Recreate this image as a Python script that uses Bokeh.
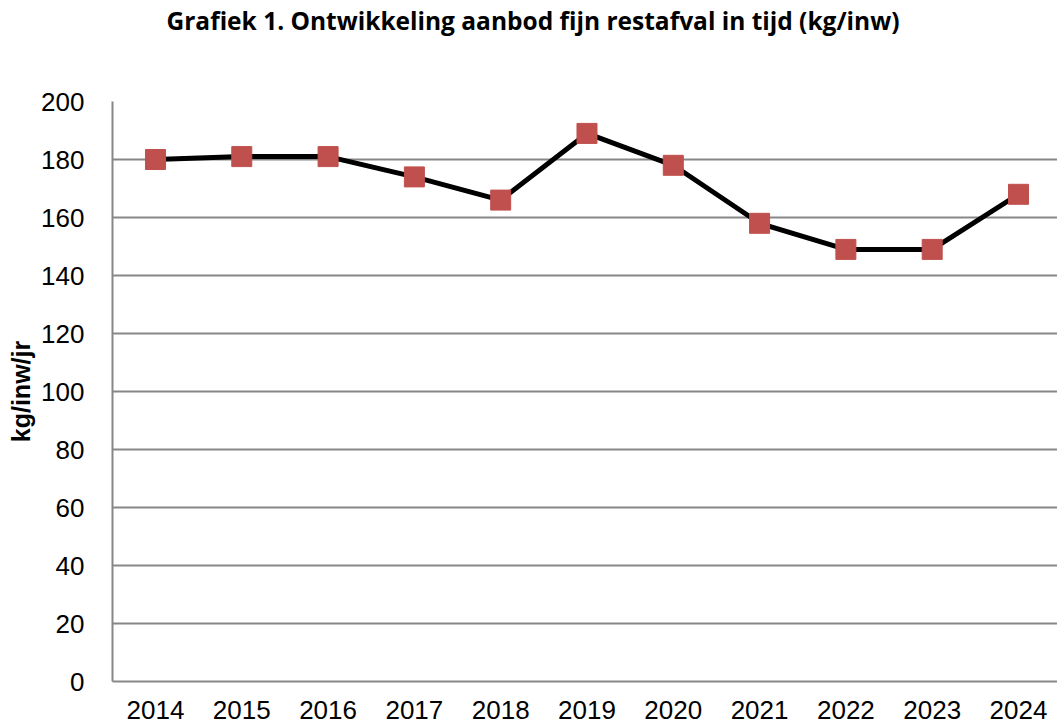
from bokeh.plotting import figure
from bokeh.models import Range1d, FixedTicker, Title
from bokeh.embed import file_html
from bokeh.resources import INLINE

years = [2014, 2015, 2016, 2017, 2018, 2019, 2020, 2021, 2022, 2023, 2024]
kg_per_inw = [180, 181, 181, 174, 166, 189, 178, 158, 149, 149, 168]
y_ticks = [0, 20, 40, 60, 80, 100, 120, 140, 160, 180, 200]
title_text = "Grafiek  1. Ontwikkeling aanbod fijn restafval in tijd (kg/inw)"
y_label = "kg/inw/jr"

p = figure(width=1057, height=724, output_backend="svg", toolbar_location=None,
           x_range=Range1d(2013.502, 2024.452), y_range=Range1d(0, 200),
           min_border_left=112, min_border_right=0, min_border_bottom=43,
           min_border_top=101)
p.title = None
spacer = Title(text=" ", text_font_size="1px", standoff=62)
p.add_layout(spacer, "above")
t = Title(text=title_text, text_font="Open Sans", text_font_style="bold",
          text_font_size="24.5px", align="left", offset=54,
          text_color="#000000", standoff=0)
p.add_layout(t, "above")

p.outline_line_color = None
p.background_fill_color = "white"
p.border_fill_color = "white"

p.line(years, kg_per_inw, line_color="black", line_width=5)
p.scatter(years, kg_per_inw, marker="square", size=20, fill_color="#C0504D",
          line_color="#C0504D")

for ax in (p.xaxis[0], p.yaxis[0]):
    ax.axis_line_color = "#878787"
    ax.axis_line_width = 2
    ax.major_tick_line_color = None
    ax.minor_tick_line_color = None
    ax.major_label_text_font = "Liberation Sans"
    ax.major_label_text_font_size = "26px"
    ax.major_label_text_color = "#000000"

p.xaxis.ticker = FixedTicker(ticks=years)
p.xaxis.major_label_standoff = 13
p.yaxis.ticker = FixedTicker(ticks=y_ticks)
p.yaxis.major_label_standoff = 22
p.yaxis.axis_label = y_label
p.yaxis.axis_label_text_font = "Liberation Sans"
p.yaxis.axis_label_text_font_style = "bold"
p.yaxis.axis_label_text_font_size = "25px"
p.yaxis.axis_label_standoff = 3
p.yaxis.axis_label_text_color = "#000000"

p.xgrid.grid_line_color = None
p.ygrid.ticker = FixedTicker(ticks=y_ticks)
p.ygrid.grid_line_color = "#878787"
p.ygrid.grid_line_width = 2

open("out.html", "w").write(file_html(p, INLINE))
